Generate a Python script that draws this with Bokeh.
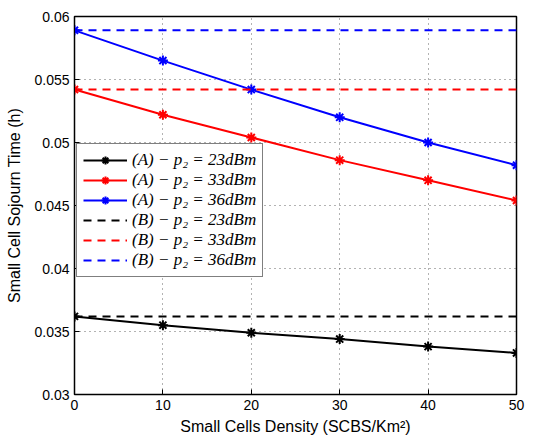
from bokeh.plotting import figure
from bokeh.models import Legend, LegendItem, Range1d, FixedTicker
from bokeh.embed import file_html
from bokeh.resources import INLINE

x = [0, 10, 20, 30, 40, 50]
a23 = [0.0362, 0.0355, 0.0349, 0.0344, 0.0338, 0.0333]
a33 = [0.0542, 0.0522, 0.0504, 0.0486, 0.0470, 0.0454]
a36 = [0.0589, 0.0565, 0.0542, 0.0520, 0.0500, 0.0482]
b23 = [0.0362] * 6
b33 = [0.0542] * 6
b36 = [0.0589] * 6
labels = ["(A) \u2212 p₂ = 23dBm", "(A) \u2212 p₂ = 33dBm", "(A) \u2212 p₂ = 36dBm",
          "(B) \u2212 p₂ = 23dBm", "(B) \u2212 p₂ = 33dBm", "(B) \u2212 p₂ = 36dBm"]
xticks = [0, 10, 20, 30, 40, 50]
yticks = [0.03, 0.035, 0.04, 0.045, 0.05, 0.055, 0.06]

p = figure(width=559, height=440, output_backend="svg", toolbar_location=None,
           x_range=Range1d(0, 50), y_range=Range1d(0.03, 0.06),
           min_border_left=74, min_border_right=43, min_border_top=16, min_border_bottom=46)
p.background_fill_color = "white"
p.outline_line_color = "black"
p.outline_line_width = 1.5

for ax in (p.xaxis[0], p.yaxis[0]):
    ax.major_tick_in = 5
    ax.major_tick_out = 0
    ax.minor_tick_in = 0
    ax.minor_tick_out = 0
    ax.major_label_text_font = "Liberation Sans"
    ax.major_label_text_font_size = "14px"
    ax.axis_label_text_font = "Liberation Sans"
    ax.axis_label_text_font_size = "16px"
    ax.axis_label_text_font_style = "normal"
    ax.axis_label_text_color = "black"
    ax.axis_line_color = "black"
    ax.major_tick_line_color = "black"
    ax.major_label_text_color = "black"
p.xaxis.ticker = FixedTicker(ticks=xticks)
p.yaxis.ticker = FixedTicker(ticks=yticks)
p.yaxis.major_label_overrides = {0.03: "0.03", 0.035: "0.035", 0.04: "0.04", 0.045: "0.045",
                                 0.05: "0.05", 0.055: "0.055", 0.06: "0.06"}
p.xaxis.axis_label = "Small Cells Density (SCBS/Km²)"
p.yaxis.axis_label = "Small Cell Sojourn Time (h)"
p.xaxis.axis_label_standoff = 5
p.yaxis.axis_label_standoff = 8
p.xaxis.major_label_standoff = 5
p.yaxis.major_label_standoff = 5

p.grid.grid_line_color = "black"
p.grid.grid_line_alpha = 0.6
p.grid.grid_line_dash = "1 4"
p.xgrid.ticker = FixedTicker(ticks=xticks)
p.ygrid.ticker = FixedTicker(ticks=yticks)

items = []
for ys, col, lab in [(a23, "black", labels[0]), (a33, "red", labels[1]), (a36, "blue", labels[2])]:
    r1 = p.line(x, ys, line_color=col, line_width=2)
    r2 = p.scatter(x, ys, marker="asterisk", size=10, line_color=col, line_width=2)
    items.append(LegendItem(label=lab, renderers=[r1, r2]))
for ys, col, lab in [(b23, "black", labels[3]), (b33, "red", labels[4]), (b36, "blue", labels[5])]:
    r = p.line(x, ys, line_color=col, line_width=2, line_dash="8 6")
    items.append(LegendItem(label=lab, renderers=[r]))

legend = Legend(items=items, location=(2, 117))
legend.label_text_font = "Liberation Serif"
legend.label_text_font_style = "italic"
legend.label_text_font_size = "17px"
legend.label_text_color = "black"
legend.border_line_color = "black"
legend.border_line_width = 1.5
legend.glyph_width = 44
legend.glyph_height = 20
legend.label_height = 20
legend.spacing = 0
legend.padding = 6
legend.margin = 0
legend.label_standoff = 5
legend.background_fill_alpha = 1
p.add_layout(legend, "center")

open("out.html", "w").write(file_html(p, INLINE))
